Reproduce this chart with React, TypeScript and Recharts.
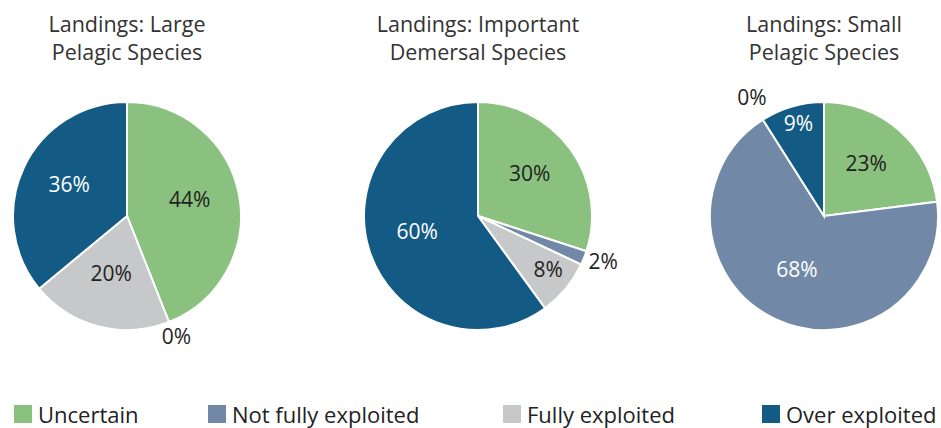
import React from 'react';
import { PieChart, Pie, Cell, Legend } from 'recharts';

const categories = ['Uncertain', 'Not fully exploited', 'Fully exploited', 'Over exploited'];
const colors = ['#8bc17e', '#7189a7', '#c7c8ca', '#135b84'];
const textColors = ['#222222', '#ffffff', '#222222', '#ffffff'];

const largePelagic = [44, 0, 20, 36];
const demersal = [30, 2, 8, 60];
const smallPelagic = [23, 68, 0, 9];

const titles = [
  ['Landings: Large', 'Pelagic Species'],
  ['Landings: Important', 'Demersal Species'],
  ['Landings: Small', 'Pelagic Species'],
];

const toRows = (values: number[]) => categories.map((name, i) => ({ name, value: values[i], idx: i }));

const pies = [toRows(largePelagic), toRows(demersal), toRows(smallPelagic)];
const centers = [127, 478, 824];

const RAD = Math.PI / 180;
const FONT = '"Open Sans", Lato, sans-serif';

const renderLabel = (props: any) => {
  const { cx, cy, midAngle, outerRadius, value, payload } = props;
  const idx = payload?.idx ?? 0;
  let f = 0.56;
  if (value < 3) f = 1.18;
  else if (value < 10) f = 0.8;
  const r = outerRadius * f;
  const x = cx + r * Math.cos(-midAngle * RAD);
  const y = cy + r * Math.sin(-midAngle * RAD) - 5;
  const fill = value < 3 ? '#222222' : textColors[idx];
  return (
    <text x={x} y={y} fill={fill} fontSize={21} fontFamily={FONT} textAnchor="middle" dominantBaseline="central">
      {`${value}%`}
    </text>
  );
};

const renderLegend = () => (
  <div style={{ position: 'relative', height: 30, fontFamily: FONT, fontSize: 22, color: '#222' }}>
    {categories.map((c, i) => (
      <div key={c} style={{ position: 'absolute', left: [14, 208, 503, 762][i], top: 0, display: 'flex', alignItems: 'center', whiteSpace: 'nowrap' }}>
        <span style={{ display: 'inline-block', width: 18, height: 18, background: colors[i], marginRight: 6 }} />
        <span>{c}</span>
      </div>
    ))}
  </div>
);

export default function App() {
  return (
    <div style={{ position: 'absolute', left: 0, top: 0 }}>
      <PieChart width={941} height={428} margin={{ top: 0, right: 0, bottom: 0, left: 0 }}>
        {titles.map((lines, p) => (
          <text key={`t${p}`} x={centers[p]} y={32} textAnchor="middle" fontFamily={FONT} fontSize={21.5} fill="#333">
            <tspan x={centers[p]} dy={0}>{lines[0]}</tspan>
            <tspan x={centers[p]} dy={28}>{lines[1]}</tspan>
          </text>
        ))}
        {pies.map((rows, p) => (
          <Pie
            key={`p${p}`}
            data={rows}
            dataKey="value"
            nameKey="name"
            cx={centers[p]}
            cy={216}
            outerRadius={114}
            startAngle={90}
            endAngle={-270}
            stroke="#ffffff"
            strokeWidth={2}
            label={renderLabel}
            labelLine={false}
            isAnimationActive={false}
          >
            {rows.map((r) => (
              <Cell key={r.name} fill={colors[r.idx]} />
            ))}
          </Pie>
        ))}
        <Legend content={renderLegend} verticalAlign="bottom" wrapperStyle={{ bottom: -1 }} />
      </PieChart>
    </div>
  );
}
